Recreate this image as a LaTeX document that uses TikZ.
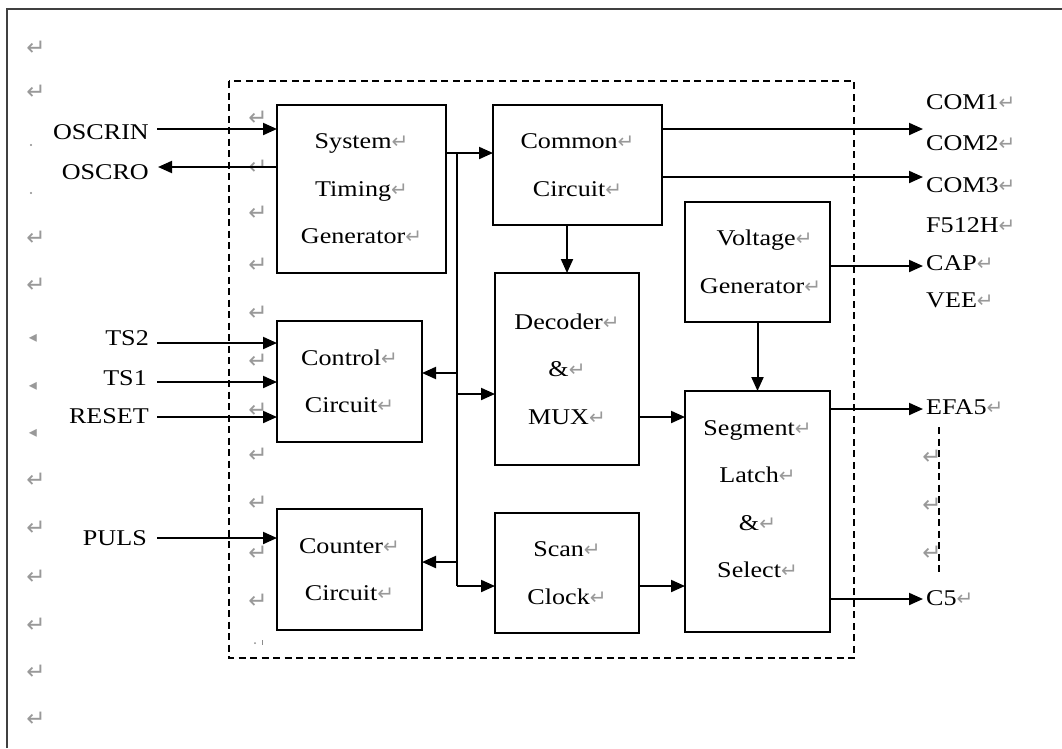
\documentclass[tikz,border=0pt]{standalone}
\usepackage{fontspec}
\setmainfont{Liberation Serif}[FakeStretch=1.16]
\newfontfamily\symfont{DejaVu Sans}
\usetikzlibrary{arrows.meta}
\newcommand\pmk{{\symfont\fontsize{20}{20}\selectfont\color{black!40}↵}}
\newcommand\pmkonly{{\symfont\fontsize{23}{23}\selectfont\color{black!40}↵}}
\newcommand\pmtri{{\symfont\fontsize{16}{16}\selectfont\color{black!40}◂}}
\begin{document}
\begin{tikzpicture}[x=1pt,y=-1pt,
  box/.style={draw, line width=2pt, inner sep=0pt, outer sep=0pt, align=center,
    font=\fontsize{22.5}{47.5}\selectfont},
  btxt/.style={inner sep=0pt, align=center, font=\fontsize{22.5}{47.5}\selectfont},
  lbl/.style={inner sep=0pt, font=\fontsize{22.5}{22.5}\selectfont},
  pm/.style={inner sep=0pt},
  arr/.style={line width=2pt, -{Triangle[length=14pt,width=12pt]}},
  wire/.style={line width=2pt}]
\useasboundingbox (0,0) rectangle (1062,748);
\fill[white] (0,0) rectangle (1062,748);
% outer frame (only top and left visible)
\draw[line width=2.2pt, black!75] (7,748) -- (7,9) -- (1062,9);
% dashed chip boundary
\draw[line width=1.6pt, dash pattern=on 7pt off 4.5pt] (229,81) rectangle (854,658);

% paragraph marks, left column
\foreach \yy in {48,238,285,480,528,577,625,672,719}
  \node[pm] at (36,\yy) {\pmkonly};
\node[pm] at (36,92) {\pmkonly};
\foreach \yy in {338,386,433}
  \node[pm] at (33,\yy) {\pmtri};
\foreach \yy in {145,193}
  \fill[black!45] (31,\yy) circle (1.2pt);
% paragraph marks, inner column
\foreach \yy in {118,167,213,265,313,361,410,455,503,553,601}
  \node[pm] at (258,\yy) {\pmkonly};
\fill[black!45] (255,643) circle (1pt);
\fill[black!45] (262,640) rectangle (263.2,645);

% blocks
\node[box, minimum width=169pt, minimum height=168pt] (stg) at (361.5,189)
  {System\pmk\\Timing\pmk\\Generator\pmk};
\node[box, minimum width=169pt, minimum height=120pt] (common) at (577.5,165)
  {Common\pmk\\Circuit\pmk};
\node[box, minimum width=144pt, minimum height=192pt] (dec) at (567,369)
  {Decoder\pmk\\\&\pmk\\MUX\pmk};
\node[box, minimum width=145pt, minimum height=120pt] (volt) at (757.5,262)
  {\hspace*{14pt}Voltage\pmk\\\hspace*{6pt}Generator\pmk};
\node[box, minimum width=145pt, minimum height=241pt] (seg) at (757.5,511.5) {};
\node[btxt] (segt) at (757.5,499) {Segment\pmk\\Latch\pmk\\\&\pmk\\Select\pmk};
\node[box, minimum width=144pt, minimum height=120pt] (scan) at (567,573)
  {Scan\pmk\\Clock\pmk};
\node[box, minimum width=145pt, minimum height=121pt] (ctrl) at (349.5,381.5)
  {Control\pmk\\Circuit\pmk};
\node[box, minimum width=145pt, minimum height=121pt] (cnt) at (349.5,569.5)
  {Counter\pmk\\Circuit\pmk};

% left labels
\node[lbl, anchor=base east] (oscrin) at (149,139.5) {OSCRIN};
\node[lbl, anchor=base east] (oscro) at (149,179.5) {OSCRO};
\node[lbl, anchor=base east] (ts2) at (149,345.5) {TS2};
\node[lbl, anchor=base east] (ts1) at (147,385.5) {TS1};
\node[lbl, anchor=base east] (reset) at (149,423.5) {RESET};
\node[lbl, anchor=base east] (puls) at (147,545.5) {PULS};

% right labels
\node[lbl, anchor=base west] (com1) at (926,109.5) {COM1\pmk};
\node[lbl, anchor=base west] (com2) at (926,150.5) {COM2\pmk};
\node[lbl, anchor=base west] (com3) at (926,192.5) {COM3\pmk};
\node[lbl, anchor=base west] (f512h) at (926,232.5) {F512H\pmk};
\node[lbl, anchor=base west] (cap) at (926,270.5) {CAP\pmk};
\node[lbl, anchor=base west] (vee) at (926,307.5) {VEE\pmk};
\node[lbl, anchor=base west] (efa5) at (926,414.5) {EFA5\pmk};
\node[lbl, anchor=base west] (c5) at (926,605.5) {C5\pmk};

% input arrows
\draw[arr] (157,129) -- (stg.west |- 0,129);
\draw[arr] (stg.west |- 0,167) -- (158,167);
\draw[arr] (157,343) -- (ctrl.west |- 0,343);
\draw[arr] (157,382) -- (ctrl.west |- 0,382);
\draw[arr] (157,417) -- (ctrl.west |- 0,417);
\draw[arr] (157,538) -- (cnt.west |- 0,538);

% internal bus
\coordinate (bt) at (457,153);
\coordinate (bb) at (457,586);
\draw[arr] (stg.east |- bt) -- (common.west |- bt);
\draw[wire] (bt) -- (bb);
\draw[arr] (bt |- 0,373) -- (ctrl.east |- 0,373);
\draw[arr] (bt |- 0,394) -- (dec.west |- 0,394);
\draw[arr] (bt |- 0,562) -- (cnt.east |- 0,562);
\draw[arr] (bb) -- (scan.west |- bb);

% internal connections
\draw[arr] (dec.north |- common.south) -- (dec.north);
\draw[arr] (volt.south) -- (seg.north);
\draw[arr] (dec.east |- 0,417) -- (seg.west |- 0,417);
\draw[arr] (scan.east |- 0,586) -- (seg.west |- 0,586);

% outputs
\draw[arr] (common.east |- 0,129) -- (923,129);
\draw[arr] (common.east |- 0,177) -- (923,177);
\draw[arr] (volt.east |- 0,266) -- (923,266);
\draw[arr] (seg.east |- 0,409) -- (923,409);
\draw[arr] (seg.east |- 0,599) -- (923,599);

% dashed continuation between EFA5 and C5
\coordinate (dtop) at (939,427);
\coordinate (dbot) at (939,572);
\draw[line width=1.3pt, dash pattern=on 7pt off 4.5pt] (dtop) -- (dbot);
\foreach \yy in {457,505,553}
  \node[pm] at (932,\yy) {\pmkonly};
\end{tikzpicture}
\end{document}
